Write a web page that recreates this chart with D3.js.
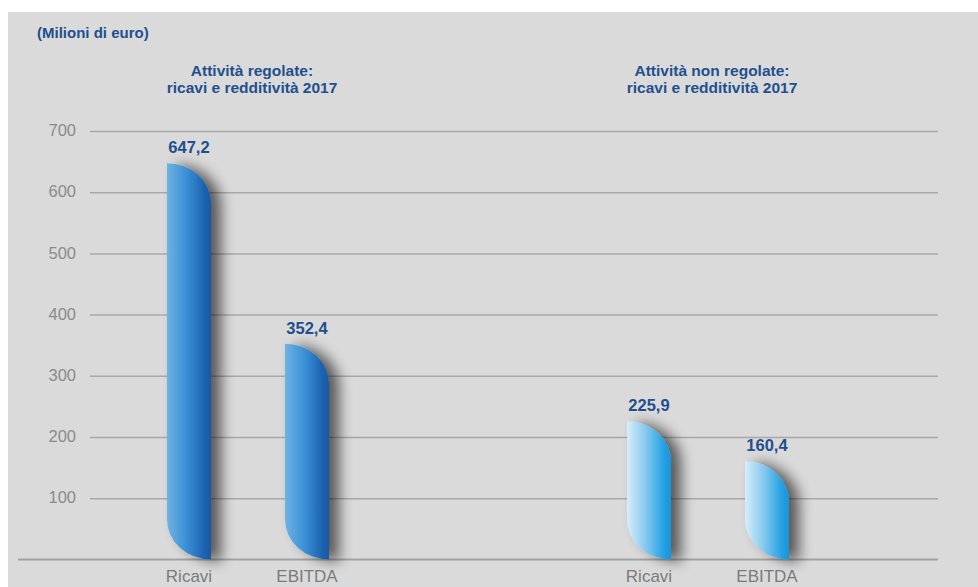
<!DOCTYPE html>
<html>
<head>
<meta charset="utf-8">
<script src="https://cdn.jsdelivr.net/npm/d3@7"></script>
<style>
  html, body { margin: 0; padding: 0; background: #ffffff; }
  svg { display: block; }
</style>
</head>
<body>
<svg id="chart" width="978" height="587"></svg>
<script>
// Revenue and EBITDA 2017, millions of euro
const groupKeys = ["regolate", "nonRegolate"];
const groupTitles = [
  ["Attività regolate:", "ricavi e redditività 2017"],
  ["Attività non regolate:", "ricavi e redditività 2017"]
];
const categories = ["Ricavi", "EBITDA"];
const regolateValues = [647.2, 352.4];
const nonRegolateValues = [225.9, 160.4];
const yTicks = [100, 200, 300, 400, 500, 600, 700];
const unitLabel = "(Milioni di euro)";

const seriesValues = { regolate: regolateValues, nonRegolate: nonRegolateValues };

const W = 978, H = 587;
const plot = { left: 90, right: 938, axisLeft: 18, top: 131, bottom: 559.4 };
const barW = 44;

const svg = d3.select("#chart");
const defs = svg.append("defs");

// gradients for the two groups
const gradStops = {
  regolate: [["0%", "#6fb2e2"], ["45%", "#3a8fd5"], ["85%", "#1c62b0"], ["100%", "#1a58a0"]],
  nonRegolate: [["0%", "#d6eefa"], ["40%", "#8ccbef"], ["85%", "#21a0e2"], ["100%", "#1a94d8"]]
};
groupKeys.forEach(k => {
  const g = defs.append("linearGradient").attr("id", "grad-" + k)
    .attr("x1", "0%").attr("x2", "100%").attr("y1", "0%").attr("y2", "0%");
  gradStops[k].forEach(s => g.append("stop").attr("offset", s[0]).attr("stop-color", s[1]));
});

const shadow = defs.append("filter").attr("id", "barShadow")
  .attr("x", "-30%").attr("y", "-20%").attr("width", "220%").attr("height", "140%");
shadow.append("feGaussianBlur").attr("in", "SourceAlpha").attr("stdDeviation", 7).attr("result", "blur");
shadow.append("feOffset").attr("in", "blur").attr("dx", 10).attr("dy", 2).attr("result", "off");
shadow.append("feComponentTransfer").attr("in", "off").attr("result", "soft")
  .append("feFuncA").attr("type", "linear").attr("slope", 0.6);
const merge = shadow.append("feMerge");
merge.append("feMergeNode").attr("in", "soft");
merge.append("feMergeNode").attr("in", "SourceGraphic");

// panel background
svg.append("rect").attr("x", 8).attr("y", 12).attr("width", W - 8).attr("height", H - 12)
  .attr("fill", "#dadada");

// scales
const y = d3.scaleLinear().domain([0, 700]).range([plot.bottom, plot.top]);
const xGroup = d3.scaleBand().domain(groupKeys).range([plot.axisLeft, plot.right]);
const xInner = d3.scalePoint().domain(categories).range([-59, 59]);
const barCenter = (gk, cat) => xGroup(gk) + xGroup.bandwidth() / 2 + xInner(cat);

// y axis with gridlines
const yAxis = d3.axisLeft(y).tickValues(yTicks).tickSize(-(plot.right - plot.left)).tickPadding(14);
const gAxis = svg.append("g").attr("transform", `translate(${plot.left},0)`).call(yAxis);
gAxis.select(".domain").remove();
gAxis.selectAll(".tick line").attr("stroke", "#a8a8a8").attr("stroke-width", 1.5);
gAxis.selectAll(".tick text")
  .attr("fill", "#8a8a8a")
  .attr("font-family", "Liberation Sans, Arial, sans-serif")
  .attr("font-size", 16.5)
  .attr("dy", "0.28em");

// baseline
svg.append("line")
  .attr("x1", plot.axisLeft).attr("x2", plot.right)
  .attr("y1", y(0)).attr("y2", y(0))
  .attr("stroke", "#a2a2a2").attr("stroke-width", 2);

// unit label
svg.append("text").attr("x", 37).attr("y", 38).text(unitLabel)
  .attr("fill", "#1f4f8e").attr("font-family", "Liberation Sans, Arial, sans-serif")
  .attr("font-weight", "bold").attr("font-size", 15);

// group titles
groupKeys.forEach((gk, i) => {
  const cx = xGroup(gk) + xGroup.bandwidth() / 2 + 4;
  const t = svg.append("text")
    .attr("text-anchor", "middle")
    .attr("fill", "#1f4f8e")
    .attr("font-family", "Liberation Sans, Arial, sans-serif")
    .attr("font-weight", "bold").attr("font-size", 15.5);
  groupTitles[i].forEach((line, j) => {
    t.append("tspan").attr("x", cx).attr("y", 76 + j * 17).text(line);
  });
});

// leaf-shaped bar: square top-left and bottom-right, rounded top-right and bottom-left
function leafPath(x0, x1, yt, yb) {
  const rx = x1 - x0;
  const ry = Math.min(40, (yb - yt) / 2);
  return `M${x0},${yb - ry} L${x0},${yt} A${rx},${ry} 0 0 1 ${x1},${yt + ry}` +
         ` L${x1},${yb} A${rx},${ry} 0 0 1 ${x0},${yb - ry} Z`;
}

const fmt = v => d3.format(".1f")(v).replace(".", ",");

const bars = [];
groupKeys.forEach(gk => categories.forEach((cat, i) => {
  bars.push({ group: gk, cat, value: seriesValues[gk][i] });
}));

svg.append("g").selectAll("path").data(bars).join("path")
  .attr("d", d => {
    const c = barCenter(d.group, d.cat);
    return leafPath(c - barW / 2, c + barW / 2, y(d.value), y(0));
  })
  .attr("fill", d => `url(#grad-${d.group})`)
  .attr("filter", "url(#barShadow)");

// value labels
svg.append("g").selectAll("text").data(bars).join("text")
  .attr("x", d => barCenter(d.group, d.cat))
  .attr("y", d => y(d.value) - 10)
  .attr("text-anchor", "middle")
  .attr("fill", "#1f4f8e")
  .attr("font-family", "Liberation Sans, Arial, sans-serif")
  .attr("font-weight", "bold").attr("font-size", 16.5)
  .text(d => fmt(d.value));

// category labels
svg.append("g").selectAll("text").data(bars).join("text")
  .attr("x", d => barCenter(d.group, d.cat))
  .attr("y", 582)
  .attr("text-anchor", "middle")
  .attr("fill", "#7a7a7a")
  .attr("font-family", "Liberation Sans, Arial, sans-serif")
  .attr("font-size", 17)
  .text(d => d.cat);
</script>
</body>
</html>
